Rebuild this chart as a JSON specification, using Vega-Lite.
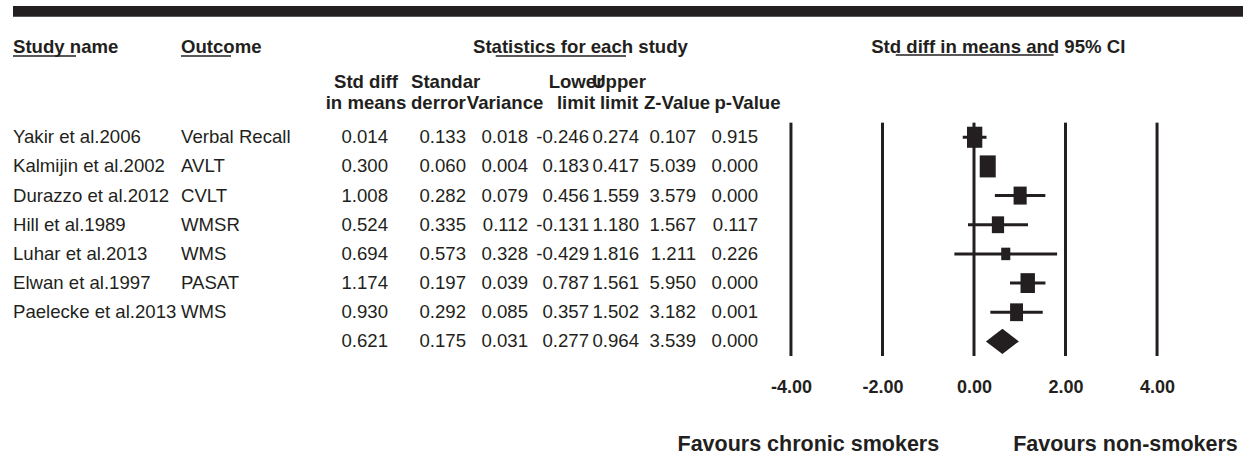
{
  "$schema": "https://vega.github.io/schema/vega-lite/v6.json",
  "autosize": {"type": "pad"},
  "padding": {"left": 12, "top": 6, "right": 0, "bottom": 0},
  "background": "white",
  "bounds": "flush",
  "spacing": 0,
  "config": {
    "font": "Liberation Sans",
    "view": {"stroke": null},
    "locale": {"number": {"decimal": ".", "thousands": ",", "grouping": [3], "currency": ["$", ""], "minus": "-"}},
    "text": {"color": "#231f20", "fontSize": 18.6}
  },
  "datasets": {
    "rows": [
      {"study": "Yakir et al.2006", "outcome": "Verbal Recall", "smd": 0.014, "se": 0.133, "variance": 0.018, "lower": -0.246, "upper": 0.274, "z": 0.107, "p": 0.915, "weight": 18.5, "type": "study"},
      {"study": "Kalmijin et al.2002", "outcome": "AVLT", "smd": 0.300, "se": 0.060, "variance": 0.004, "lower": 0.183, "upper": 0.417, "z": 5.039, "p": 0.000, "weight": 20.2, "type": "study"},
      {"study": "Durazzo et al.2012", "outcome": "CVLT", "smd": 1.008, "se": 0.282, "variance": 0.079, "lower": 0.456, "upper": 1.559, "z": 3.579, "p": 0.000, "weight": 13.5, "type": "study"},
      {"study": "Hill et al.1989", "outcome": "WMSR", "smd": 0.524, "se": 0.335, "variance": 0.112, "lower": -0.131, "upper": 1.180, "z": 1.567, "p": 0.117, "weight": 11.8, "type": "study"},
      {"study": "Luhar et al.2013", "outcome": "WMS", "smd": 0.694, "se": 0.573, "variance": 0.328, "lower": -0.429, "upper": 1.816, "z": 1.211, "p": 0.226, "weight": 6.5, "type": "study"},
      {"study": "Elwan et al.1997", "outcome": "PASAT", "smd": 1.174, "se": 0.197, "variance": 0.039, "lower": 0.787, "upper": 1.561, "z": 5.950, "p": 0.000, "weight": 16.4, "type": "study"},
      {"study": "Paelecke et al.2013", "outcome": "WMS", "smd": 0.930, "se": 0.292, "variance": 0.085, "lower": 0.357, "upper": 1.502, "z": 3.182, "p": 0.001, "weight": 13.2, "type": "study"},
      {"study": "Combined", "outcome": "", "smd": 0.621, "se": 0.175, "variance": 0.031, "lower": 0.277, "upper": 0.964, "z": 3.539, "p": 0.000, "weight": 100, "type": "summary"}
    ],
    "headers": [
      {"col": "study", "row": "h1", "label": "Study name"},
      {"col": "outcome", "row": "h1", "label": "Outcome"},
      {"col": "stats", "row": "h1", "label": "Statistics for each study"},
      {"col": "forest", "row": "h1", "label": "Std diff in means and 95% CI"},
      {"col": "smd", "row": "sub", "label": "Std diff\nin means"},
      {"col": "se", "row": "sub", "label": "Standar\nderror"},
      {"col": "variance", "row": "sub", "label": "\nVariance"},
      {"col": "lower", "row": "sub", "label": "Lower\nlimit"},
      {"col": "upper", "row": "sub", "label": "Upper\nlimit"},
      {"col": "z", "row": "sub", "label": "\nZ-Value"},
      {"col": "p", "row": "sub", "label": "\np-Value"},
      {"col": "left", "row": "favours", "label": "Favours chronic smokers"},
      {"col": "right", "row": "favours", "label": "Favours non-smokers"}
    ],
    "bar": [{"row": "bar"}],
    "deco": [{"row": "h1"}],
    "refs": [{"v": -4}, {"v": -2}, {"v": 0}, {"v": 2}, {"v": 4}]
  },
  "hconcat": [
    {
      "width": 168, "height": 350,
      "layer": [
        {"data": {"name": "bar"}, "mark": {"type": "rect", "color": "#231f20"},
         "encoding": {"y": {"datum": "bar", "type": "nominal", "bandPosition": 0, "axis": null, "scale": {"type": "band", "paddingInner": 0, "paddingOuter": 0, "domain": ["bar","h1","sub","gap","Yakir et al.2006","Kalmijin et al.2002","Durazzo et al.2012","Hill et al.1989","Luhar et al.2013","Elwan et al.1997","Paelecke et al.2013","Combined"]}}, "y2": {"datum": "bar", "bandPosition": 0.37}}},
        {"data": {"name": "deco"}, "mark": {"type": "rule", "color": "#231f20", "strokeWidth": 1.5},
         "encoding": {
           "y": {"field": "row", "type": "nominal", "bandPosition": 0.71, "axis": null, "scale": {"type": "band", "paddingInner": 0, "paddingOuter": 0, "domain": ["bar","h1","sub","gap","Yakir et al.2006","Kalmijin et al.2002","Durazzo et al.2012","Hill et al.1989","Luhar et al.2013","Elwan et al.1997","Paelecke et al.2013","Combined"]}},
           "x": {"datum": "study", "type": "nominal", "bandPosition": 0, "axis": null, "scale": {"type": "band", "paddingInner": 0, "paddingOuter": 0}},
           "x2": {"datum": "study", "bandPosition": 0.375}}},
        {"data": {"name": "headers"}, "transform": [{"filter": "datum.col === 'study'"}],
         "mark": {"type": "text", "fontWeight": "bold", "align": "left", "baseline": "middle"},
         "encoding": {
           "y": {"field": "row", "type": "nominal", "bandPosition": 0.41, "axis": null, "scale": {"type": "band", "paddingInner": 0, "paddingOuter": 0, "domain": ["bar","h1","sub","gap","Yakir et al.2006","Kalmijin et al.2002","Durazzo et al.2012","Hill et al.1989","Luhar et al.2013","Elwan et al.1997","Paelecke et al.2013","Combined"]}},
           "x": {"datum": "study", "type": "nominal", "bandPosition": 0, "axis": null, "scale": {"type": "band", "paddingInner": 0, "paddingOuter": 0}},
           "text": {"field": "label"}}},
        {"data": {"name": "rows"}, "transform": [{"filter": "datum.type === 'study'"}],
         "mark": {"type": "text", "align": "left", "baseline": "middle"},
         "encoding": {
           "y": {"field": "study", "type": "nominal", "axis": null, "scale": {"type": "band", "paddingInner": 0, "paddingOuter": 0, "domain": ["bar","h1","sub","gap","Yakir et al.2006","Kalmijin et al.2002","Durazzo et al.2012","Hill et al.1989","Luhar et al.2013","Elwan et al.1997","Paelecke et al.2013","Combined"]}},
           "x": {"datum": "study", "type": "nominal", "bandPosition": 0, "axis": null, "scale": {"type": "band", "paddingInner": 0, "paddingOuter": 0}},
           "text": {"field": "study"}}}
      ]
    },
    {
      "width": 120, "height": 350,
      "layer": [
        {"data": {"name": "bar"}, "mark": {"type": "rect", "color": "#231f20"},
         "encoding": {"y": {"datum": "bar", "type": "nominal", "bandPosition": 0, "axis": null, "scale": {"type": "band", "paddingInner": 0, "paddingOuter": 0, "domain": ["bar","h1","sub","gap","Yakir et al.2006","Kalmijin et al.2002","Durazzo et al.2012","Hill et al.1989","Luhar et al.2013","Elwan et al.1997","Paelecke et al.2013","Combined"]}}, "y2": {"datum": "bar", "bandPosition": 0.37}}},
        {"data": {"name": "deco"}, "mark": {"type": "rule", "color": "#231f20", "strokeWidth": 1.5},
         "encoding": {
           "y": {"field": "row", "type": "nominal", "bandPosition": 0.71, "axis": null, "scale": {"type": "band", "paddingInner": 0, "paddingOuter": 0, "domain": ["bar","h1","sub","gap","Yakir et al.2006","Kalmijin et al.2002","Durazzo et al.2012","Hill et al.1989","Luhar et al.2013","Elwan et al.1997","Paelecke et al.2013","Combined"]}},
           "x": {"datum": "outcome", "type": "nominal", "bandPosition": 0, "axis": null, "scale": {"type": "band", "paddingInner": 0, "paddingOuter": 0}},
           "x2": {"datum": "outcome", "bandPosition": 0.417}}},
        {"data": {"name": "headers"}, "transform": [{"filter": "datum.col === 'outcome'"}],
         "mark": {"type": "text", "fontWeight": "bold", "align": "left", "baseline": "middle"},
         "encoding": {
           "y": {"field": "row", "type": "nominal", "bandPosition": 0.41, "axis": null, "scale": {"type": "band", "paddingInner": 0, "paddingOuter": 0, "domain": ["bar","h1","sub","gap","Yakir et al.2006","Kalmijin et al.2002","Durazzo et al.2012","Hill et al.1989","Luhar et al.2013","Elwan et al.1997","Paelecke et al.2013","Combined"]}},
           "x": {"datum": "outcome", "type": "nominal", "bandPosition": 0, "axis": null, "scale": {"type": "band", "paddingInner": 0, "paddingOuter": 0}},
           "text": {"field": "label"}}},
        {"data": {"name": "rows"}, "transform": [{"filter": "datum.type === 'study'"}],
         "mark": {"type": "text", "align": "left", "baseline": "middle"},
         "encoding": {
           "y": {"field": "study", "type": "nominal", "axis": null, "scale": {"type": "band", "paddingInner": 0, "paddingOuter": 0, "domain": ["bar","h1","sub","gap","Yakir et al.2006","Kalmijin et al.2002","Durazzo et al.2012","Hill et al.1989","Luhar et al.2013","Elwan et al.1997","Paelecke et al.2013","Combined"]}},
           "x": {"datum": "outcome", "type": "nominal", "bandPosition": 0, "axis": null, "scale": {"type": "band", "paddingInner": 0, "paddingOuter": 0}},
           "text": {"field": "outcome"}}}
      ]
    },
    {
      "width": 87, "height": 350,
      "layer": [
        {"data": {"name": "bar"}, "mark": {"type": "rect", "color": "#231f20"},
         "encoding": {"y": {"datum": "bar", "type": "nominal", "bandPosition": 0, "axis": null, "scale": {"type": "band", "paddingInner": 0, "paddingOuter": 0, "domain": ["bar","h1","sub","gap","Yakir et al.2006","Kalmijin et al.2002","Durazzo et al.2012","Hill et al.1989","Luhar et al.2013","Elwan et al.1997","Paelecke et al.2013","Combined"]}}, "y2": {"datum": "bar", "bandPosition": 0.37}}},
        {"data": {"name": "headers"}, "transform": [{"filter": "datum.col === 'smd'"}],
         "mark": {"type": "text", "fontWeight": "bold", "align": "center", "baseline": "middle", "lineBreak": "\n", "lineHeight": 21},
         "encoding": {
           "y": {"field": "row", "type": "nominal", "bandPosition": 0.606, "axis": null, "scale": {"type": "band", "paddingInner": 0, "paddingOuter": 0, "domain": ["bar","h1","sub","gap","Yakir et al.2006","Kalmijin et al.2002","Durazzo et al.2012","Hill et al.1989","Luhar et al.2013","Elwan et al.1997","Paelecke et al.2013","Combined"]}},
           "x": {"datum": "smd", "type": "nominal", "bandPosition": 0.747, "axis": null, "scale": {"type": "band", "paddingInner": 0, "paddingOuter": 0}},
           "text": {"field": "label"}}},
        {"data": {"name": "rows"},
         "mark": {"type": "text", "align": "right", "baseline": "middle"},
         "encoding": {
           "y": {"field": "study", "type": "nominal", "axis": null, "scale": {"type": "band", "paddingInner": 0, "paddingOuter": 0, "domain": ["bar","h1","sub","gap","Yakir et al.2006","Kalmijin et al.2002","Durazzo et al.2012","Hill et al.1989","Luhar et al.2013","Elwan et al.1997","Paelecke et al.2013","Combined"]}},
           "x": {"datum": "smd", "type": "nominal", "bandPosition": 1, "axis": null, "scale": {"type": "band", "paddingInner": 0, "paddingOuter": 0}},
           "text": {"field": "smd", "type": "quantitative", "format": ".3f"}}}
      ]
    },
    {
      "width": 78, "height": 350,
      "layer": [
        {"data": {"name": "bar"}, "mark": {"type": "rect", "color": "#231f20"},
         "encoding": {"y": {"datum": "bar", "type": "nominal", "bandPosition": 0, "axis": null, "scale": {"type": "band", "paddingInner": 0, "paddingOuter": 0, "domain": ["bar","h1","sub","gap","Yakir et al.2006","Kalmijin et al.2002","Durazzo et al.2012","Hill et al.1989","Luhar et al.2013","Elwan et al.1997","Paelecke et al.2013","Combined"]}}, "y2": {"datum": "bar", "bandPosition": 0.37}}},
        {"data": {"name": "headers"}, "transform": [{"filter": "datum.col === 'se'"}],
         "mark": {"type": "text", "fontWeight": "bold", "align": "left", "baseline": "middle", "lineBreak": "\n", "lineHeight": 21},
         "encoding": {
           "y": {"field": "row", "type": "nominal", "bandPosition": 0.606, "axis": null, "scale": {"type": "band", "paddingInner": 0, "paddingOuter": 0, "domain": ["bar","h1","sub","gap","Yakir et al.2006","Kalmijin et al.2002","Durazzo et al.2012","Hill et al.1989","Luhar et al.2013","Elwan et al.1997","Paelecke et al.2013","Combined"]}},
           "x": {"datum": "se", "type": "nominal", "bandPosition": 0.295, "axis": null, "scale": {"type": "band", "paddingInner": 0, "paddingOuter": 0}},
           "text": {"field": "label"}}},
        {"data": {"name": "rows"},
         "mark": {"type": "text", "align": "right", "baseline": "middle"},
         "encoding": {
           "y": {"field": "study", "type": "nominal", "axis": null, "scale": {"type": "band", "paddingInner": 0, "paddingOuter": 0, "domain": ["bar","h1","sub","gap","Yakir et al.2006","Kalmijin et al.2002","Durazzo et al.2012","Hill et al.1989","Luhar et al.2013","Elwan et al.1997","Paelecke et al.2013","Combined"]}},
           "x": {"datum": "se", "type": "nominal", "bandPosition": 1, "axis": null, "scale": {"type": "band", "paddingInner": 0, "paddingOuter": 0}},
           "text": {"field": "se", "type": "quantitative", "format": ".3f"}}}
      ]
    },
    {
      "width": 62, "height": 350,
      "layer": [
        {"data": {"name": "bar"}, "mark": {"type": "rect", "color": "#231f20"},
         "encoding": {"y": {"datum": "bar", "type": "nominal", "bandPosition": 0, "axis": null, "scale": {"type": "band", "paddingInner": 0, "paddingOuter": 0, "domain": ["bar","h1","sub","gap","Yakir et al.2006","Kalmijin et al.2002","Durazzo et al.2012","Hill et al.1989","Luhar et al.2013","Elwan et al.1997","Paelecke et al.2013","Combined"]}}, "y2": {"datum": "bar", "bandPosition": 0.37}}},
        {"data": {"name": "deco"}, "mark": {"type": "rule", "color": "#231f20", "strokeWidth": 1.5},
         "encoding": {
           "y": {"field": "row", "type": "nominal", "bandPosition": 0.71, "axis": null, "scale": {"type": "band", "paddingInner": 0, "paddingOuter": 0, "domain": ["bar","h1","sub","gap","Yakir et al.2006","Kalmijin et al.2002","Durazzo et al.2012","Hill et al.1989","Luhar et al.2013","Elwan et al.1997","Paelecke et al.2013","Combined"]}},
           "x": {"datum": "variance", "type": "nominal", "bandPosition": 0.48, "axis": null, "scale": {"type": "band", "paddingInner": 0, "paddingOuter": 0}},
           "x2": {"datum": "variance", "bandPosition": 1}}},
        {"data": {"name": "headers"}, "transform": [{"filter": "datum.col === 'variance'"}],
         "mark": {"type": "text", "fontWeight": "bold", "align": "center", "baseline": "middle", "lineBreak": "\n", "lineHeight": 21},
         "encoding": {
           "y": {"field": "row", "type": "nominal", "bandPosition": 0.606, "axis": null, "scale": {"type": "band", "paddingInner": 0, "paddingOuter": 0, "domain": ["bar","h1","sub","gap","Yakir et al.2006","Kalmijin et al.2002","Durazzo et al.2012","Hill et al.1989","Luhar et al.2013","Elwan et al.1997","Paelecke et al.2013","Combined"]}},
           "x": {"datum": "variance", "type": "nominal", "bandPosition": 0.63, "axis": null, "scale": {"type": "band", "paddingInner": 0, "paddingOuter": 0}},
           "text": {"field": "label"}}},
        {"data": {"name": "rows"},
         "mark": {"type": "text", "align": "right", "baseline": "middle"},
         "encoding": {
           "y": {"field": "study", "type": "nominal", "axis": null, "scale": {"type": "band", "paddingInner": 0, "paddingOuter": 0, "domain": ["bar","h1","sub","gap","Yakir et al.2006","Kalmijin et al.2002","Durazzo et al.2012","Hill et al.1989","Luhar et al.2013","Elwan et al.1997","Paelecke et al.2013","Combined"]}},
           "x": {"datum": "variance", "type": "nominal", "bandPosition": 1, "axis": null, "scale": {"type": "band", "paddingInner": 0, "paddingOuter": 0}},
           "text": {"field": "variance", "type": "quantitative", "format": ".3f"}}}
      ]
    },
    {
      "width": 61, "height": 350,
      "layer": [
        {"data": {"name": "bar"}, "mark": {"type": "rect", "color": "#231f20"},
         "encoding": {"y": {"datum": "bar", "type": "nominal", "bandPosition": 0, "axis": null, "scale": {"type": "band", "paddingInner": 0, "paddingOuter": 0, "domain": ["bar","h1","sub","gap","Yakir et al.2006","Kalmijin et al.2002","Durazzo et al.2012","Hill et al.1989","Luhar et al.2013","Elwan et al.1997","Paelecke et al.2013","Combined"]}}, "y2": {"datum": "bar", "bandPosition": 0.37}}},
        {"data": {"name": "deco"}, "mark": {"type": "rule", "color": "#231f20", "strokeWidth": 1.5},
         "encoding": {
           "y": {"field": "row", "type": "nominal", "bandPosition": 0.71, "axis": null, "scale": {"type": "band", "paddingInner": 0, "paddingOuter": 0, "domain": ["bar","h1","sub","gap","Yakir et al.2006","Kalmijin et al.2002","Durazzo et al.2012","Hill et al.1989","Luhar et al.2013","Elwan et al.1997","Paelecke et al.2013","Combined"]}},
           "x": {"datum": "lower", "type": "nominal", "bandPosition": 0, "axis": null, "scale": {"type": "band", "paddingInner": 0, "paddingOuter": 0}},
           "x2": {"datum": "lower", "bandPosition": 1}}},
        {"data": {"name": "headers"}, "transform": [{"filter": "datum.col === 'stats'"}],
         "mark": {"type": "text", "fontWeight": "bold", "align": "center", "baseline": "middle"},
         "encoding": {
           "y": {"field": "row", "type": "nominal", "bandPosition": 0.41, "axis": null, "scale": {"type": "band", "paddingInner": 0, "paddingOuter": 0, "domain": ["bar","h1","sub","gap","Yakir et al.2006","Kalmijin et al.2002","Durazzo et al.2012","Hill et al.1989","Luhar et al.2013","Elwan et al.1997","Paelecke et al.2013","Combined"]}},
           "x": {"datum": "lower", "type": "nominal", "bandPosition": 0.86, "axis": null, "scale": {"type": "band", "paddingInner": 0, "paddingOuter": 0}},
           "text": {"field": "label"}}},
        {"data": {"name": "headers"}, "transform": [{"filter": "datum.col === 'lower'"}],
         "mark": {"type": "text", "fontWeight": "bold", "align": "center", "baseline": "middle", "lineBreak": "\n", "lineHeight": 21},
         "encoding": {
           "y": {"field": "row", "type": "nominal", "bandPosition": 0.606, "axis": null, "scale": {"type": "band", "paddingInner": 0, "paddingOuter": 0, "domain": ["bar","h1","sub","gap","Yakir et al.2006","Kalmijin et al.2002","Durazzo et al.2012","Hill et al.1989","Luhar et al.2013","Elwan et al.1997","Paelecke et al.2013","Combined"]}},
           "x": {"datum": "lower", "type": "nominal", "bandPosition": 0.787, "axis": null, "scale": {"type": "band", "paddingInner": 0, "paddingOuter": 0}},
           "text": {"field": "label"}}},
        {"data": {"name": "rows"},
         "mark": {"type": "text", "align": "right", "baseline": "middle"},
         "encoding": {
           "y": {"field": "study", "type": "nominal", "axis": null, "scale": {"type": "band", "paddingInner": 0, "paddingOuter": 0, "domain": ["bar","h1","sub","gap","Yakir et al.2006","Kalmijin et al.2002","Durazzo et al.2012","Hill et al.1989","Luhar et al.2013","Elwan et al.1997","Paelecke et al.2013","Combined"]}},
           "x": {"datum": "lower", "type": "nominal", "bandPosition": 1, "axis": null, "scale": {"type": "band", "paddingInner": 0, "paddingOuter": 0}},
           "text": {"field": "lower", "type": "quantitative", "format": ".3f"}}}
      ]
    },
    {
      "width": 50, "height": 350,
      "layer": [
        {"data": {"name": "bar"}, "mark": {"type": "rect", "color": "#231f20"},
         "encoding": {"y": {"datum": "bar", "type": "nominal", "bandPosition": 0, "axis": null, "scale": {"type": "band", "paddingInner": 0, "paddingOuter": 0, "domain": ["bar","h1","sub","gap","Yakir et al.2006","Kalmijin et al.2002","Durazzo et al.2012","Hill et al.1989","Luhar et al.2013","Elwan et al.1997","Paelecke et al.2013","Combined"]}}, "y2": {"datum": "bar", "bandPosition": 0.37}}},
        {"data": {"name": "deco"}, "mark": {"type": "rule", "color": "#231f20", "strokeWidth": 1.5},
         "encoding": {
           "y": {"field": "row", "type": "nominal", "bandPosition": 0.71, "axis": null, "scale": {"type": "band", "paddingInner": 0, "paddingOuter": 0, "domain": ["bar","h1","sub","gap","Yakir et al.2006","Kalmijin et al.2002","Durazzo et al.2012","Hill et al.1989","Luhar et al.2013","Elwan et al.1997","Paelecke et al.2013","Combined"]}},
           "x": {"datum": "upper", "type": "nominal", "bandPosition": 0, "axis": null, "scale": {"type": "band", "paddingInner": 0, "paddingOuter": 0}},
           "x2": {"datum": "upper", "bandPosition": 0.74}}},
        {"data": {"name": "headers"}, "transform": [{"filter": "datum.col === 'upper'"}],
         "mark": {"type": "text", "fontWeight": "bold", "align": "center", "baseline": "middle", "lineBreak": "\n", "lineHeight": 21},
         "encoding": {
           "y": {"field": "row", "type": "nominal", "bandPosition": 0.606, "axis": null, "scale": {"type": "band", "paddingInner": 0, "paddingOuter": 0, "domain": ["bar","h1","sub","gap","Yakir et al.2006","Kalmijin et al.2002","Durazzo et al.2012","Hill et al.1989","Luhar et al.2013","Elwan et al.1997","Paelecke et al.2013","Combined"]}},
           "x": {"datum": "upper", "type": "nominal", "bandPosition": 0.6, "axis": null, "scale": {"type": "band", "paddingInner": 0, "paddingOuter": 0}},
           "text": {"field": "label"}}},
        {"data": {"name": "rows"},
         "mark": {"type": "text", "align": "right", "baseline": "middle"},
         "encoding": {
           "y": {"field": "study", "type": "nominal", "axis": null, "scale": {"type": "band", "paddingInner": 0, "paddingOuter": 0, "domain": ["bar","h1","sub","gap","Yakir et al.2006","Kalmijin et al.2002","Durazzo et al.2012","Hill et al.1989","Luhar et al.2013","Elwan et al.1997","Paelecke et al.2013","Combined"]}},
           "x": {"datum": "upper", "type": "nominal", "bandPosition": 1, "axis": null, "scale": {"type": "band", "paddingInner": 0, "paddingOuter": 0}},
           "text": {"field": "upper", "type": "quantitative", "format": ".3f"}}}
      ]
    },
    {
      "width": 57, "height": 350,
      "layer": [
        {"data": {"name": "bar"}, "mark": {"type": "rect", "color": "#231f20"},
         "encoding": {"y": {"datum": "bar", "type": "nominal", "bandPosition": 0, "axis": null, "scale": {"type": "band", "paddingInner": 0, "paddingOuter": 0, "domain": ["bar","h1","sub","gap","Yakir et al.2006","Kalmijin et al.2002","Durazzo et al.2012","Hill et al.1989","Luhar et al.2013","Elwan et al.1997","Paelecke et al.2013","Combined"]}}, "y2": {"datum": "bar", "bandPosition": 0.37}}},
        {"data": {"name": "headers"}, "transform": [{"filter": "datum.col === 'z'"}],
         "mark": {"type": "text", "fontWeight": "bold", "align": "center", "baseline": "middle", "lineBreak": "\n", "lineHeight": 21},
         "encoding": {
           "y": {"field": "row", "type": "nominal", "bandPosition": 0.606, "axis": null, "scale": {"type": "band", "paddingInner": 0, "paddingOuter": 0, "domain": ["bar","h1","sub","gap","Yakir et al.2006","Kalmijin et al.2002","Durazzo et al.2012","Hill et al.1989","Luhar et al.2013","Elwan et al.1997","Paelecke et al.2013","Combined"]}},
           "x": {"datum": "z", "type": "nominal", "bandPosition": 0.667, "axis": null, "scale": {"type": "band", "paddingInner": 0, "paddingOuter": 0}},
           "text": {"field": "label"}}},
        {"data": {"name": "rows"},
         "mark": {"type": "text", "align": "right", "baseline": "middle"},
         "encoding": {
           "y": {"field": "study", "type": "nominal", "axis": null, "scale": {"type": "band", "paddingInner": 0, "paddingOuter": 0, "domain": ["bar","h1","sub","gap","Yakir et al.2006","Kalmijin et al.2002","Durazzo et al.2012","Hill et al.1989","Luhar et al.2013","Elwan et al.1997","Paelecke et al.2013","Combined"]}},
           "x": {"datum": "z", "type": "nominal", "bandPosition": 1, "axis": null, "scale": {"type": "band", "paddingInner": 0, "paddingOuter": 0}},
           "text": {"field": "z", "type": "quantitative", "format": ".3f"}}}
      ]
    },
    {
      "width": 62, "height": 350,
      "layer": [
        {"data": {"name": "bar"}, "mark": {"type": "rect", "color": "#231f20"},
         "encoding": {"y": {"datum": "bar", "type": "nominal", "bandPosition": 0, "axis": null, "scale": {"type": "band", "paddingInner": 0, "paddingOuter": 0, "domain": ["bar","h1","sub","gap","Yakir et al.2006","Kalmijin et al.2002","Durazzo et al.2012","Hill et al.1989","Luhar et al.2013","Elwan et al.1997","Paelecke et al.2013","Combined"]}}, "y2": {"datum": "bar", "bandPosition": 0.37}}},
        {"data": {"name": "headers"}, "transform": [{"filter": "datum.col === 'p'"}],
         "mark": {"type": "text", "fontWeight": "bold", "align": "center", "baseline": "middle", "lineBreak": "\n", "lineHeight": 21},
         "encoding": {
           "y": {"field": "row", "type": "nominal", "bandPosition": 0.606, "axis": null, "scale": {"type": "band", "paddingInner": 0, "paddingOuter": 0, "domain": ["bar","h1","sub","gap","Yakir et al.2006","Kalmijin et al.2002","Durazzo et al.2012","Hill et al.1989","Luhar et al.2013","Elwan et al.1997","Paelecke et al.2013","Combined"]}},
           "x": {"datum": "p", "type": "nominal", "bandPosition": 0.83, "axis": null, "scale": {"type": "band", "paddingInner": 0, "paddingOuter": 0}},
           "text": {"field": "label"}}},
        {"data": {"name": "rows"},
         "mark": {"type": "text", "align": "right", "baseline": "middle"},
         "encoding": {
           "y": {"field": "study", "type": "nominal", "axis": null, "scale": {"type": "band", "paddingInner": 0, "paddingOuter": 0, "domain": ["bar","h1","sub","gap","Yakir et al.2006","Kalmijin et al.2002","Durazzo et al.2012","Hill et al.1989","Luhar et al.2013","Elwan et al.1997","Paelecke et al.2013","Combined"]}},
           "x": {"datum": "p", "type": "nominal", "bandPosition": 1, "axis": null, "scale": {"type": "band", "paddingInner": 0, "paddingOuter": 0}},
           "text": {"field": "p", "type": "quantitative", "format": ".3f"}}}
      ]
    },
    {
      "width": 432, "height": 350,
      "layer": [
        {"data": {"name": "refs"}, "mark": {"type": "rule", "color": "#231f20", "strokeWidth": 3},
         "encoding": {
           "x": {"field": "v", "type": "quantitative", "scale": {"domain": [-4.72, 4.72], "nice": false, "zero": false},
                 "axis": {"values": [-4, -2, 0, 2, 4], "format": ".2f", "domain": false, "ticks": false, "grid": false, "title": null, "labelFontWeight": "bold", "labelFontSize": 18, "labelColor": "#231f20", "labelPadding": 31, "labelBaseline": "middle", "labelFlush": false, "labelOverlap": false}},
           "y": {"datum": "gap", "type": "nominal", "bandPosition": 1, "axis": null, "scale": {"type": "band", "paddingInner": 0, "paddingOuter": 0, "domain": ["bar","h1","sub","gap","Yakir et al.2006","Kalmijin et al.2002","Durazzo et al.2012","Hill et al.1989","Luhar et al.2013","Elwan et al.1997","Paelecke et al.2013","Combined"]}},
           "y2": {"datum": "Combined", "bandPosition": 1}}},
        {"data": {"name": "bar"}, "mark": {"type": "rect", "color": "#231f20"},
         "encoding": {"y": {"datum": "bar", "type": "nominal", "bandPosition": 0, "axis": null, "scale": {"type": "band", "paddingInner": 0, "paddingOuter": 0, "domain": ["bar","h1","sub","gap","Yakir et al.2006","Kalmijin et al.2002","Durazzo et al.2012","Hill et al.1989","Luhar et al.2013","Elwan et al.1997","Paelecke et al.2013","Combined"]}}, "y2": {"datum": "bar", "bandPosition": 0.37}}},
        {"data": {"name": "rows"}, "transform": [{"filter": "datum.type === 'study'"}],
         "mark": {"type": "rule", "color": "#231f20", "strokeWidth": 3},
         "encoding": {
           "x": {"field": "lower", "type": "quantitative", "scale": {"domain": [-4.72, 4.72], "nice": false, "zero": false},
                 "axis": {"values": [-4, -2, 0, 2, 4], "format": ".2f", "domain": false, "ticks": false, "grid": false, "title": null, "labelFontWeight": "bold", "labelFontSize": 18, "labelColor": "#231f20", "labelPadding": 31, "labelBaseline": "middle", "labelFlush": false, "labelOverlap": false}},
           "x2": {"field": "upper"},
           "y": {"field": "study", "type": "nominal", "axis": null, "scale": {"type": "band", "paddingInner": 0, "paddingOuter": 0, "domain": ["bar","h1","sub","gap","Yakir et al.2006","Kalmijin et al.2002","Durazzo et al.2012","Hill et al.1989","Luhar et al.2013","Elwan et al.1997","Paelecke et al.2013","Combined"]}}}},
        {"data": {"name": "rows"}, "transform": [{"filter": "datum.type === 'study'"}],
         "mark": {"type": "point", "shape": "M-0.727,-1L0.727,-1L0.727,1L-0.727,1Z", "filled": true, "opacity": 1, "color": "#231f20", "strokeWidth": 0},
         "encoding": {
           "x": {"field": "smd", "type": "quantitative", "scale": {"domain": [-4.72, 4.72], "nice": false, "zero": false},
                 "axis": {"values": [-4, -2, 0, 2, 4], "format": ".2f", "domain": false, "ticks": false, "grid": false, "title": null, "labelFontWeight": "bold", "labelFontSize": 18, "labelColor": "#231f20", "labelPadding": 31, "labelBaseline": "middle", "labelFlush": false, "labelOverlap": false}},
           "y": {"field": "study", "type": "nominal", "axis": null, "scale": {"type": "band", "paddingInner": 0, "paddingOuter": 0, "domain": ["bar","h1","sub","gap","Yakir et al.2006","Kalmijin et al.2002","Durazzo et al.2012","Hill et al.1989","Luhar et al.2013","Elwan et al.1997","Paelecke et al.2013","Combined"]}},
           "size": {"field": "weight", "type": "quantitative", "scale": {"domain": [0, 25], "range": [0, 600], "zero": true}, "legend": null}}},
        {"data": {"name": "rows"}, "transform": [{"filter": "datum.type === 'summary'"}],
         "mark": {"type": "point", "shape": "M-1,0L0,-0.76L1,0L0,0.76Z", "size": 1090, "filled": true, "opacity": 1, "color": "#231f20", "strokeWidth": 0},
         "encoding": {
           "x": {"field": "smd", "type": "quantitative", "scale": {"domain": [-4.72, 4.72], "nice": false, "zero": false},
                 "axis": {"values": [-4, -2, 0, 2, 4], "format": ".2f", "domain": false, "ticks": false, "grid": false, "title": null, "labelFontWeight": "bold", "labelFontSize": 18, "labelColor": "#231f20", "labelPadding": 31, "labelBaseline": "middle", "labelFlush": false, "labelOverlap": false}},
           "y": {"field": "study", "type": "nominal", "axis": null, "scale": {"type": "band", "paddingInner": 0, "paddingOuter": 0, "domain": ["bar","h1","sub","gap","Yakir et al.2006","Kalmijin et al.2002","Durazzo et al.2012","Hill et al.1989","Luhar et al.2013","Elwan et al.1997","Paelecke et al.2013","Combined"]}}}},
        {"data": {"name": "deco"}, "mark": {"type": "rule", "color": "#231f20", "strokeWidth": 1.5},
         "encoding": {
           "y": {"field": "row", "type": "nominal", "bandPosition": 0.68, "axis": null, "scale": {"type": "band", "paddingInner": 0, "paddingOuter": 0, "domain": ["bar","h1","sub","gap","Yakir et al.2006","Kalmijin et al.2002","Durazzo et al.2012","Hill et al.1989","Luhar et al.2013","Elwan et al.1997","Paelecke et al.2013","Combined"]}},
           "x": {"datum": -1.71, "type": "quantitative", "scale": {"domain": [-4.72, 4.72], "nice": false, "zero": false},
                 "axis": {"values": [-4, -2, 0, 2, 4], "format": ".2f", "domain": false, "ticks": false, "grid": false, "title": null, "labelFontWeight": "bold", "labelFontSize": 18, "labelColor": "#231f20", "labelPadding": 31, "labelBaseline": "middle", "labelFlush": false, "labelOverlap": false}},
           "x2": {"datum": 1.74}}},
        {"data": {"name": "headers"}, "transform": [{"filter": "datum.col === 'forest'"}],
         "mark": {"type": "text", "fontWeight": "bold", "align": "center", "baseline": "middle"},
         "encoding": {
           "y": {"field": "row", "type": "nominal", "bandPosition": 0.41, "axis": null, "scale": {"type": "band", "paddingInner": 0, "paddingOuter": 0, "domain": ["bar","h1","sub","gap","Yakir et al.2006","Kalmijin et al.2002","Durazzo et al.2012","Hill et al.1989","Luhar et al.2013","Elwan et al.1997","Paelecke et al.2013","Combined"]}},
           "x": {"datum": 0.53, "type": "quantitative", "scale": {"domain": [-4.72, 4.72], "nice": false, "zero": false},
                 "axis": {"values": [-4, -2, 0, 2, 4], "format": ".2f", "domain": false, "ticks": false, "grid": false, "title": null, "labelFontWeight": "bold", "labelFontSize": 18, "labelColor": "#231f20", "labelPadding": 31, "labelBaseline": "middle", "labelFlush": false, "labelOverlap": false}},
           "text": {"field": "label"}}},
        {"data": {"name": "headers"}, "transform": [{"filter": "datum.col === 'left'"}],
         "mark": {"type": "text", "fontWeight": "bold", "fontSize": 21.5, "align": "center", "baseline": "middle", "dy": 103.6},
         "encoding": {
           "y": {"datum": "Combined", "type": "nominal", "axis": null, "scale": {"type": "band", "paddingInner": 0, "paddingOuter": 0, "domain": ["bar","h1","sub","gap","Yakir et al.2006","Kalmijin et al.2002","Durazzo et al.2012","Hill et al.1989","Luhar et al.2013","Elwan et al.1997","Paelecke et al.2013","Combined"]}},
           "x": {"datum": -3.62, "type": "quantitative", "scale": {"domain": [-4.72, 4.72], "nice": false, "zero": false},
                 "axis": {"values": [-4, -2, 0, 2, 4], "format": ".2f", "domain": false, "ticks": false, "grid": false, "title": null, "labelFontWeight": "bold", "labelFontSize": 18, "labelColor": "#231f20", "labelPadding": 31, "labelBaseline": "middle", "labelFlush": false, "labelOverlap": false}},
           "text": {"field": "label"}}},
        {"data": {"name": "headers"}, "transform": [{"filter": "datum.col === 'right'"}],
         "mark": {"type": "text", "fontWeight": "bold", "fontSize": 21.5, "align": "center", "baseline": "middle", "dy": 103.6},
         "encoding": {
           "y": {"datum": "Combined", "type": "nominal", "axis": null, "scale": {"type": "band", "paddingInner": 0, "paddingOuter": 0, "domain": ["bar","h1","sub","gap","Yakir et al.2006","Kalmijin et al.2002","Durazzo et al.2012","Hill et al.1989","Luhar et al.2013","Elwan et al.1997","Paelecke et al.2013","Combined"]}},
           "x": {"datum": 3.31, "type": "quantitative", "scale": {"domain": [-4.72, 4.72], "nice": false, "zero": false},
                 "axis": {"values": [-4, -2, 0, 2, 4], "format": ".2f", "domain": false, "ticks": false, "grid": false, "title": null, "labelFontWeight": "bold", "labelFontSize": 18, "labelColor": "#231f20", "labelPadding": 31, "labelBaseline": "middle", "labelFlush": false, "labelOverlap": false}},
           "text": {"field": "label"}}}
      ]
    },
    {
      "width": 54, "height": 350,
      "layer": [
        {"data": {"name": "bar"}, "mark": {"type": "rect", "color": "#231f20"},
         "encoding": {"y": {"datum": "bar", "type": "nominal", "bandPosition": 0, "axis": null, "scale": {"type": "band", "paddingInner": 0, "paddingOuter": 0, "domain": ["bar","h1","sub","gap","Yakir et al.2006","Kalmijin et al.2002","Durazzo et al.2012","Hill et al.1989","Luhar et al.2013","Elwan et al.1997","Paelecke et al.2013","Combined"]}}, "y2": {"datum": "bar", "bandPosition": 0.37}}}
      ]
    }
  ]
}
